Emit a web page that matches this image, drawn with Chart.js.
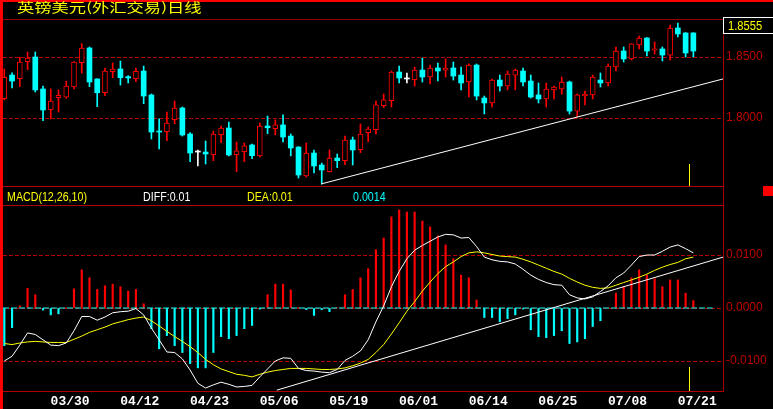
<!DOCTYPE html>
<html>
<head>
<meta charset="utf-8">
<script src="https://cdn.jsdelivr.net/npm/chart.js@4"></script>
<style>
  html, body { margin: 0; padding: 0; background: #000; }
  #wrap { position: relative; width: 773px; height: 409px; overflow: hidden; background: #000; }
  canvas { position: absolute; left: 0; }
  .ln { position: absolute; background: #b00000; }
  .txt { position: absolute; font: 13px/13px "Liberation Sans", Arial, sans-serif; white-space: nowrap; transform: scaleX(0.82); transform-origin: 0 0; }
  #title { position: absolute; left: 17px; top: 0; font: 13px/13px "Noto Sans CJK SC", sans-serif; color: #ffff00; transform: scaleX(1.33); transform-origin: 0 0; white-space: nowrap; }
  #last { position: absolute; left: 723px; top: 17px; width: 46px; height: 15px; padding-left: 4px; border: 1px solid #fff; border-right: none; }
  #last span { display: block; color: #ffff00; font: 13px/15px "Liberation Sans", Arial, sans-serif; transform: scaleX(0.86); transform-origin: 0 0; white-space: nowrap; }
</style>
</head>
<body>
<div id="wrap">
  <canvas id="price" width="773" height="188" style="top:0"></canvas>
  <canvas id="macd" width="773" height="222" style="top:187px"></canvas>

  <div class="ln" style="left:3px;top:19px;width:720px;height:1px;background:#900000"></div>
  <div class="ln" style="left:3px;top:186px;width:720px;height:1px"></div>
  <div class="ln" style="left:3px;top:205px;width:720px;height:1px"></div>
  <div class="ln" style="left:3px;top:391px;width:720px;height:1px"></div>
  <div class="ln" style="left:723px;top:19px;width:1px;height:373px;background:#a00000"></div>
  <div class="ln" style="left:0;top:0;width:773px;height:2px;background:#ff0000"></div>
  <div class="ln" style="left:0;top:0;width:3px;height:409px;background:#ff0000"></div>
  <div class="ln" style="left:763px;top:186px;width:10px;height:10px;background:#ff0000"></div>

  <div id="title">英镑美元(外汇交易)日线</div>
  <div id="last"><span>1.8555</span></div>
  <div class="txt" style="left:7px;top:190px;color:#ffff00">MACD(12,26,10)</div>
  <div class="txt" style="left:143px;top:190px;color:#ffffff">DIFF:0.01</div>
  <div class="txt" style="left:247px;top:190px;color:#ffff00">DEA:0.01</div>
  <div class="txt" style="left:353px;top:190px;color:#00ffff">0.0014</div>
</div>

<script>
// daily GBP/USD candles, one per trading day
const open = [
  1.8158, 1.8352, 1.8322, 1.8461, 1.8500, 1.8238, 1.8068, 1.8166, 1.8170, 1.8254,
  1.8453, 1.8574, 1.8320, 1.8207, 1.8380, 1.8402, 1.8339, 1.8322, 1.8385, 1.8189,
  1.7893, 1.7888, 1.7986, 1.8082, 1.7869, 1.7721, 1.7721, 1.7699, 1.7863, 1.7918,
  1.7699, 1.7724, 1.7779, 1.7689, 1.7934, 1.7912, 1.7943, 1.7852, 1.7762, 1.7525,
  1.7713, 1.7615, 1.7560, 1.7672, 1.7650, 1.7820, 1.7740, 1.7880, 1.7904, 1.8101,
  1.8142, 1.8377, 1.8320, 1.8314, 1.8393, 1.8336, 1.8410, 1.8393, 1.8410, 1.8352,
  1.8295, 1.8434, 1.8164, 1.8123, 1.8311, 1.8262, 1.8352, 1.8385, 1.8303, 1.8189,
  1.8156, 1.8230, 1.8238, 1.8295, 1.8057, 1.8180, 1.8189, 1.8311, 1.8287, 1.8418,
  1.8549, 1.8484, 1.8598, 1.8656, 1.8557, 1.8566, 1.8516, 1.8738, 1.8697, 1.8697
];
const close = [
  1.8334, 1.8303, 1.8459, 1.8492, 1.8230, 1.8066, 1.8139, 1.8186, 1.8262, 1.8459,
  1.8574, 1.8295, 1.8207, 1.8385, 1.8402, 1.8330, 1.8328, 1.8383, 1.8180, 1.7885,
  1.7885, 1.7959, 1.8082, 1.7861, 1.7713, 1.7721, 1.7705, 1.7869, 1.7918, 1.7697,
  1.7730, 1.7771, 1.7691, 1.7934, 1.7920, 1.7943, 1.7844, 1.7754, 1.7533, 1.7713,
  1.7607, 1.7574, 1.7672, 1.7650, 1.7820, 1.7738, 1.7869, 1.7910, 1.8107, 1.8148,
  1.8377, 1.8328, 1.8320, 1.8393, 1.8336, 1.8410, 1.8385, 1.8410, 1.8344, 1.8287,
  1.8434, 1.8180, 1.8123, 1.8311, 1.8262, 1.8361, 1.8393, 1.8295, 1.8172, 1.8156,
  1.8238, 1.8254, 1.8295, 1.8057, 1.8189, 1.8197, 1.8336, 1.8287, 1.8426, 1.8549,
  1.8484, 1.8607, 1.8656, 1.8549, 1.8566, 1.8516, 1.8738, 1.8689, 1.8533, 1.8549
];
const high = [
  1.8402, 1.8371, 1.8498, 1.8541, 1.8541, 1.8262, 1.8238, 1.8230, 1.8303, 1.8462,
  1.8609, 1.8582, 1.8322, 1.8410, 1.8451, 1.8467, 1.8347, 1.8410, 1.8426, 1.8197,
  1.7994, 1.8049, 1.8139, 1.8090, 1.7880, 1.7738, 1.7811, 1.7893, 1.7934, 1.7967,
  1.7803, 1.7795, 1.7787, 1.7959, 1.8016, 1.7984, 1.8025, 1.7869, 1.7765, 1.7795,
  1.7738, 1.7631, 1.7738, 1.7705, 1.7852, 1.7844, 1.7951, 1.7926, 1.8139, 1.8197,
  1.8385, 1.8426, 1.8369, 1.8418, 1.8492, 1.8434, 1.8451, 1.8484, 1.8459, 1.8418,
  1.8443, 1.8443, 1.8180, 1.8320, 1.8352, 1.8385, 1.8402, 1.8410, 1.8352, 1.8287,
  1.8287, 1.8262, 1.8336, 1.8303, 1.8197, 1.8221, 1.8352, 1.8369, 1.8443, 1.8582,
  1.8582, 1.8610, 1.8672, 1.8659, 1.8623, 1.8582, 1.8762, 1.8779, 1.8700, 1.8700
];
const low = [
  1.8148, 1.8246, 1.8257, 1.8396, 1.8213, 1.7978, 1.7994, 1.8049, 1.8161, 1.8238,
  1.8369, 1.8257, 1.8093, 1.8183, 1.8330, 1.8270, 1.8287, 1.8298, 1.8117, 1.7828,
  1.7746, 1.7814, 1.7953, 1.7852, 1.7642, 1.7607, 1.7623, 1.7650, 1.7798, 1.7689,
  1.7560, 1.7642, 1.7666, 1.7680, 1.7871, 1.7861, 1.7803, 1.7689, 1.7508, 1.7516,
  1.7549, 1.7459, 1.7557, 1.7593, 1.7617, 1.7615, 1.7716, 1.7806, 1.7869, 1.8084,
  1.8090, 1.8287, 1.8287, 1.8262, 1.8295, 1.8279, 1.8303, 1.8336, 1.8311, 1.8230,
  1.8172, 1.8148, 1.8033, 1.8090, 1.8221, 1.8230, 1.8230, 1.8262, 1.8164, 1.8123,
  1.8090, 1.8156, 1.8197, 1.8033, 1.8008, 1.8107, 1.8156, 1.8254, 1.8262, 1.8385,
  1.8459, 1.8475, 1.8566, 1.8508, 1.8525, 1.8467, 1.8475, 1.8664, 1.8500, 1.8500
];

// MACD(12,26,10)
const diff = [
  -0.0100, -0.0091, -0.0070, -0.0047, -0.0050, -0.0060, -0.0070, -0.0071, -0.0066, -0.0043,
  -0.0016, -0.0016, -0.0023, -0.0017, -0.0009, -0.0007, -0.0006, -0.0001, -0.0013, -0.0038,
  -0.0060, -0.0083, -0.0084, -0.0096, -0.0117, -0.0142, -0.0151, -0.0145, -0.0140, -0.0144,
  -0.0149, -0.0148, -0.0146, -0.0130, -0.0115, -0.0100, -0.0094, -0.0095, -0.0114, -0.0118,
  -0.0119, -0.0121, -0.0122, -0.0116, -0.0099, -0.0091, -0.0081, -0.0060, -0.0026, 0.0004,
  0.0040, 0.0069, 0.0093, 0.0109, 0.0118, 0.0126, 0.0134, 0.0139, 0.0138, 0.0132,
  0.0133, 0.0116, 0.0096, 0.0091, 0.0088, 0.0087, 0.0083, 0.0073, 0.0062, 0.0054,
  0.0048, 0.0044, 0.0043, 0.0025, 0.0019, 0.0017, 0.0021, 0.0031, 0.0042, 0.0057,
  0.0066, 0.0081, 0.0097, 0.0100, 0.0100, 0.0107, 0.0115, 0.0119, 0.0112, 0.0104
];
const dea = [
  -0.0067, -0.0069, -0.0066, -0.0064, -0.0063, -0.0064, -0.0065, -0.0065, -0.0065, -0.0059,
  -0.0053, -0.0046, -0.0041, -0.0036, -0.0030, -0.0026, -0.0022, -0.0019, -0.0017, -0.0024,
  -0.0034, -0.0044, -0.0054, -0.0063, -0.0073, -0.0084, -0.0097, -0.0107, -0.0115, -0.0120,
  -0.0125, -0.0127, -0.0130, -0.0125, -0.0121, -0.0118, -0.0116, -0.0114, -0.0114, -0.0114,
  -0.0115, -0.0116, -0.0116, -0.0115, -0.0113, -0.0109, -0.0104, -0.0097, -0.0084, -0.0069,
  -0.0049, -0.0028, -0.0006, 0.0012, 0.0032, 0.0049, 0.0065, 0.0078, 0.0087, 0.0097,
  0.0104, 0.0106, 0.0104, 0.0101, 0.0098, 0.0097, 0.0096, 0.0092, 0.0087, 0.0081,
  0.0075, 0.0069, 0.0064, 0.0056, 0.0049, 0.0043, 0.0039, 0.0037, 0.0038, 0.0043,
  0.0048, 0.0053, 0.0058, 0.0064, 0.0071, 0.0077, 0.0082, 0.0086, 0.0093, 0.0096
];
const macd = [
  -0.0071, -0.0037, 0.0004, 0.0037, 0.0025, -0.0004, -0.0013, -0.0011, 0.0001, 0.0036,
  0.0072, 0.0057, 0.0035, 0.0042, 0.0045, 0.0040, 0.0032, 0.0035, 0.0008, -0.0039,
  -0.0077, -0.0052, -0.0071, -0.0084, -0.0105, -0.0113, -0.0113, -0.0084, -0.0054, -0.0058,
  -0.0052, -0.0039, -0.0033, -0.0002, 0.0025, 0.0045, 0.0045, 0.0034, 0.0001, -0.0003,
  -0.0014, -0.0003, -0.0007, 0.0001, 0.0025, 0.0035, 0.0057, 0.0074, 0.0110, 0.0132,
  0.0172, 0.0185, 0.0181, 0.0181, 0.0164, 0.0153, 0.0136, 0.0119, 0.0093, 0.0062,
  0.0057, 0.0015, -0.0018, -0.0018, -0.0026, -0.0020, -0.0013, -0.0002, -0.0041, -0.0054,
  -0.0056, -0.0052, -0.0043, -0.0067, -0.0064, -0.0058, -0.0035, -0.0024, 0.0001, 0.0028,
  0.0040, 0.0057, 0.0072, 0.0062, 0.0055, 0.0040, 0.0053, 0.0053, 0.0028, 0.0014
];

// trend lines drawn on the chart: [bar index, value]
const priceTrend = [[40.9, 1.7459], [92.83, 1.8320]];
const macdTrend = [[35.2, -0.0155], [92.83, 0.0096]];

const dateLabels = ['03/30', '04/12', '04/23', '05/06', '05/19', '06/01', '06/14', '06/25', '07/08', '07/21'];
const dateAt = [8.5, 17.5, 26.5, 35.5, 44.5, 53.5, 62.5, 71.5, 80.5, 89.5];
const priceTicks = [1.80, 1.85];
const macdTicks = [-0.01, 0, 0.01];
const cursorAt = 88.45;

const RED = '#ff0000', CYAN = '#00ffff', GRID = '#b40000';
const sans = '"Liberation Sans", Arial, sans-serif';
const X_MIN = -0.17, X_MAX = 92.83;

const idx = open.map((_, i) => i);
const dir = i => close[i] > open[i] ? 1 : (close[i] < open[i] ? -1 : 0);
const candleColor = i => dir(i) > 0 ? RED : (dir(i) < 0 ? CYAN : '#ffffff');

const cursorLine = {
  id: 'cursorLine',
  afterDatasetsDraw(chart, args, opts) {
    const x = Math.round(chart.scales.x.getPixelForValue(cursorAt)) + 0.5;
    const ctx = chart.ctx;
    ctx.save();
    ctx.strokeStyle = '#ffff00';
    ctx.lineWidth = 1;
    ctx.beginPath();
    ctx.moveTo(x, chart.chartArea.bottom - opts.len);
    ctx.lineTo(x, chart.chartArea.bottom);
    ctx.stroke();
    ctx.restore();
  }
};

const rightAxis = (min, max, ticks, fmt) => ({
  position: 'right',
  min: min, max: max,
  afterBuildTicks: s => { s.ticks = ticks.map(v => ({ value: v })); },
  afterFit: s => { s.width = 50; s.paddingTop = 0; s.paddingBottom = 0; },
  grid: { color: GRID, lineWidth: 1, drawTicks: false },
  border: { display: false, dash: [4, 2] },
  ticks: {
    color: '#c00000', padding: 3, crossAlign: 'near',
    font: { family: sans, size: 12 },
    callback: fmt
  }
});

const common = {
  responsive: false,
  animation: false,
  events: [],
  plugins: { legend: { display: false }, tooltip: { enabled: false } }
};

new Chart(document.getElementById('price'), {
  type: 'bar',
  plugins: [cursorLine],
  data: {
    datasets: [
      {
        type: 'line', order: 0,
        data: priceTrend.map(p => ({ x: p[0], y: p[1] })),
        borderColor: '#ffffff', borderWidth: 1, pointRadius: 0
      },
      {
        order: 1, grouped: false, barThickness: 5, minBarLength: 1,
        data: idx.map(i => ({ x: i, y: [open[i], close[i]] })),
        backgroundColor: c => dir(c.dataIndex) > 0 ? '#000000' : candleColor(c.dataIndex),
        borderColor: c => candleColor(c.dataIndex),
        borderWidth: c => dir(c.dataIndex) > 0 ? 1 : 0,
        borderSkipped: false
      },
      {
        order: 2, grouped: false, barThickness: 1,
        data: idx.map(i => ({ x: i, y: [low[i], high[i]] })),
        backgroundColor: c => candleColor(c.dataIndex),
        borderWidth: 0
      }
    ]
  },
  options: Object.assign({}, common, {
    layout: { padding: { top: 19, left: 3, right: 0, bottom: 2 } },
    plugins: Object.assign({}, common.plugins, { cursorLine: { len: 22 } }),
    scales: {
      x: { type: 'linear', min: X_MIN, max: X_MAX, offset: false, display: false },
      y: rightAxis(1.744262, 1.881148, priceTicks, v => v.toFixed(4))
    }
  })
});

new Chart(document.getElementById('macd'), {
  type: 'bar',
  plugins: [cursorLine],
  data: {
    datasets: [
      {
        type: 'line', order: 0,
        data: macdTrend.map(p => ({ x: p[0], y: p[1] })),
        borderColor: '#ffffff', borderWidth: 1, pointRadius: 0
      },
      {
        type: 'line', order: 1,
        data: idx.map(i => ({ x: i, y: diff[i] })),
        borderColor: '#ffffff', borderWidth: 1, pointRadius: 0
      },
      {
        type: 'line', order: 2,
        data: idx.map(i => ({ x: i, y: dea[i] })),
        borderColor: '#ffff00', borderWidth: 1, pointRadius: 0
      },
      {
        type: 'line', order: 3,
        data: [{ x: X_MIN, y: 0 }, { x: 91.5, y: 0 }],
        borderColor: CYAN, borderWidth: 1, borderDash: [6, 2], pointRadius: 0
      },
      {
        order: 4, grouped: false, barThickness: 1.5,
        data: idx.map(i => ({ x: i, y: macd[i] })),
        backgroundColor: c => macd[c.dataIndex] >= 0 ? RED : CYAN,
        borderWidth: 0
      }
    ]
  },
  options: Object.assign({}, common, {
    layout: { padding: { top: 18, left: 3, right: 0, bottom: 0 } },
    plugins: Object.assign({}, common.plugins, { cursorLine: { len: 24 } }),
    scales: {
      x: {
        type: 'linear', min: X_MIN, max: X_MAX, offset: false, position: 'bottom',
        afterBuildTicks: s => { s.ticks = dateAt.map(v => ({ value: v })); },
        afterFit: s => { s.height = 18; s.paddingLeft = 0; s.paddingRight = 0; },
        grid: { display: false, drawTicks: false },
        border: { display: false },
        ticks: {
          color: '#ffffff', padding: 3, autoSkip: false, maxRotation: 0,
          font: { family: '"Liberation Mono", "DejaVu Sans Mono", monospace', size: 13, weight: 'bold' },
          callback: (v, i) => dateLabels[i]
        }
      },
      y: rightAxis(-0.015660, 0.019434, macdTicks, v => v.toFixed(4))
    }
  })
});
</script>
</body>
</html>
